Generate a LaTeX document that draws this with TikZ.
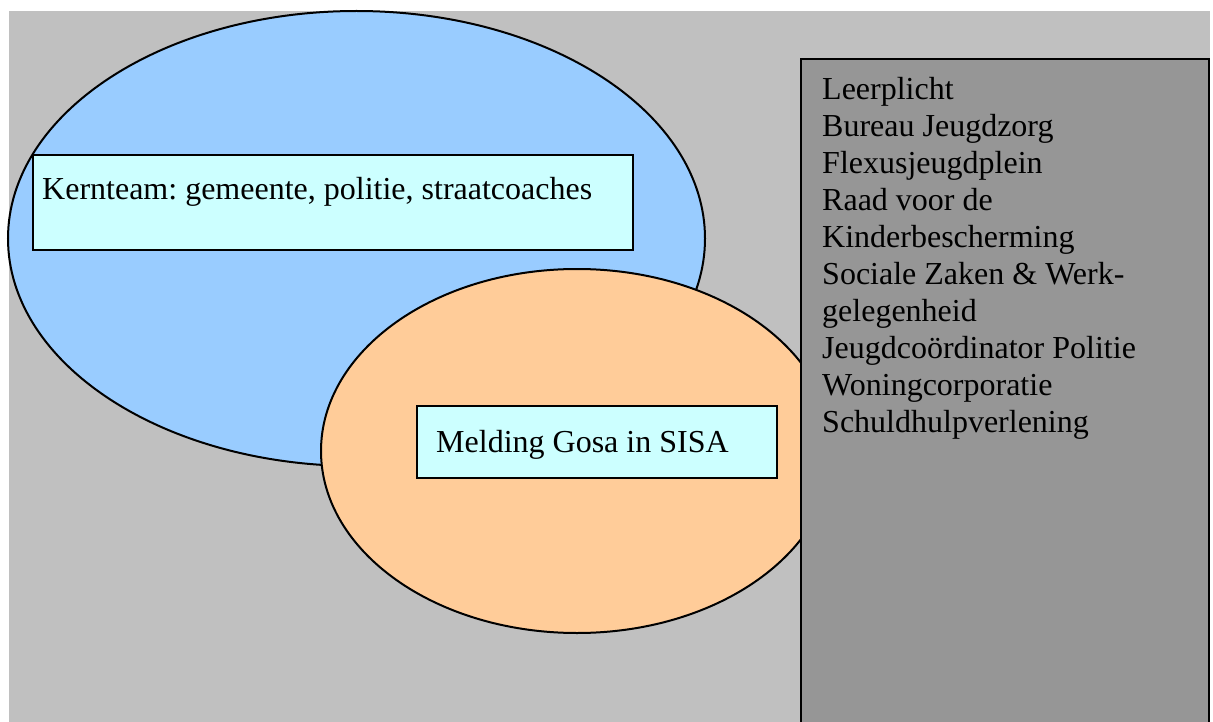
\documentclass[tikz,border=0pt]{standalone}
\usepackage{fontspec}
\setmainfont{Liberation Serif}
\usetikzlibrary{shapes.geometric}
\definecolor{bggray}{HTML}{C0C0C0}
\definecolor{boxgray}{HTML}{969696}
\definecolor{lightblue}{HTML}{99CCFF}
\definecolor{peach}{HTML}{FFCC99}
\definecolor{paleaqua}{HTML}{CCFFFF}
\frenchspacing
\tikzset{
  shapeline/.style={draw=black, line width=2pt},
  oval/.style={shapeline, ellipse, inner sep=0pt, outer sep=0pt},
  labelbox/.style={shapeline, fill=paleaqua},
  txt/.style={anchor=base west, inner sep=0pt, font=\fontsize{32}{36.9}\selectfont, align=left}
}
\begin{document}
\begin{tikzpicture}[x=1pt,y=-1pt]
\useasboundingbox (0,0) rectangle (1213,722);
\clip (0,0) rectangle (1213,722);
\fill[bggray] (9,11) rectangle (1210,730);
\node[oval, fill=lightblue, minimum width=697pt, minimum height=455pt] (kern) at (356.5,238.5) {};
\draw[labelbox] (33,155) rectangle (633,250);
\node[txt] (kerntxt) at (42,200) {Kernteam: gemeente, politie, straatcoaches};
\node[oval, fill=peach, minimum width=512pt, minimum height=364pt] (meld) at (577,451) {};
\draw[labelbox] (417,406) rectangle (777,478);
\node[txt] (meldtxt) at (436,452) {Melding Gosa in SISA};
\draw[shapeline, fill=boxgray] (801,59) rectangle (1209,740);
\node[txt, anchor=north west] (list) at (822,77.5) {Leerplicht\\Bureau Jeugdzorg\\Flexusjeugdplein\\Raad voor de\\Kinderbescherming\\Sociale Zaken \& Werk-\\gelegenheid\\Jeugdcoördinator Politie\\Woningcorporatie\\Schuldhulpverlening};
\end{tikzpicture}
\end{document}
